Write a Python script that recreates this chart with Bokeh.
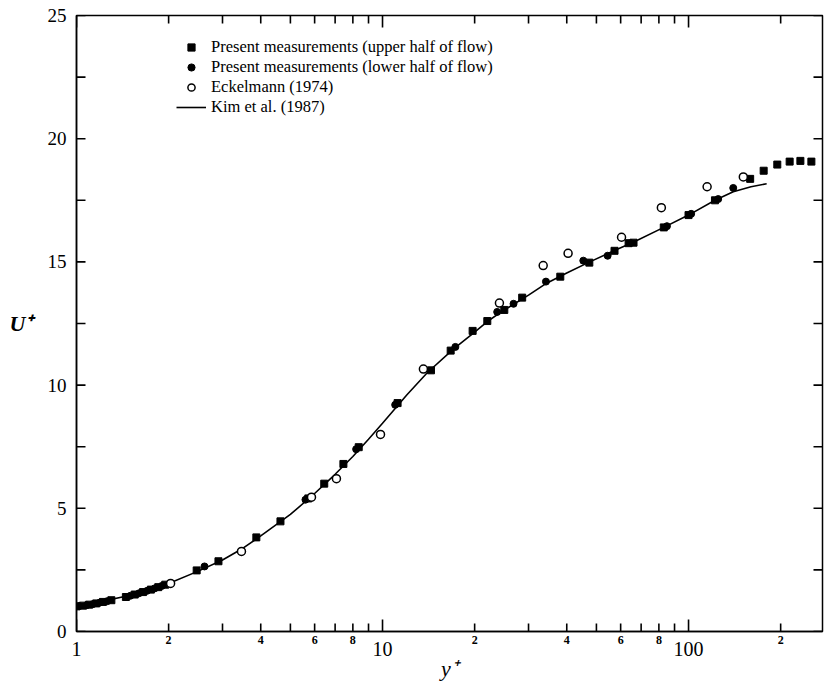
import math
from bokeh.plotting import figure
from bokeh.models import FixedTicker, LogAxis, Legend, LegendItem
from bokeh.embed import file_html
from bokeh.resources import INLINE

# ---- data ----
upper_y = [1.0, 1.05, 1.1, 1.16, 1.22, 1.3, 1.45, 1.55, 1.65, 1.75, 1.85, 1.95,
           2.47, 2.91, 3.87, 4.64, 5.72, 6.45, 7.45, 8.36, 11.2, 14.4, 16.7, 19.7,
           22.0, 25.0, 28.6, 38.1, 47.4, 57.3, 63.7, 66.1, 83.0, 100.0, 122.0,
           159.0, 176.0, 195.0, 214.0, 232.0, 252.0]
upper_u = [1.02, 1.05, 1.09, 1.14, 1.2, 1.27, 1.4, 1.5, 1.6, 1.7, 1.8, 1.9,
           2.48, 2.85, 3.82, 4.47, 5.4, 6.0, 6.8, 7.48, 9.27, 10.6, 11.4, 12.2,
           12.6, 13.05, 13.55, 14.4, 14.97, 15.45, 15.76, 15.78, 16.4, 16.9, 17.5,
           18.37, 18.7, 18.95, 19.07, 19.1, 19.07]

lower_y = [1.02, 1.08, 1.13, 1.19, 1.26, 1.5, 1.6, 1.7, 1.8, 1.9,
           2.62, 5.6, 8.2, 11.0, 17.3, 23.7, 26.8, 34.2, 45.3, 54.4, 85.0, 102.0,
           125.0, 140.0]
lower_u = [1.03, 1.07, 1.11, 1.17, 1.23, 1.45, 1.55, 1.65, 1.75, 1.85,
           2.64, 5.35, 7.4, 9.2, 11.55, 12.97, 13.3, 14.2, 15.05, 15.25, 16.45, 16.95,
           17.55, 18.0]

eck_y = [2.03, 3.46, 5.86, 7.07, 9.85, 13.6, 24.1, 33.5, 40.4, 60.4, 81.5, 115.0, 151.0]
eck_u = [1.95, 3.25, 5.45, 6.2, 8.0, 10.65, 13.33, 14.85, 15.35, 16.0, 17.2, 18.05, 18.45]

kim_y = [1, 1.5, 2, 2.5, 3, 3.5, 4, 5, 6, 7, 8, 9, 10, 11, 12, 14, 17, 20, 22, 25, 30,
         34, 40, 47, 57, 66, 83, 100, 122, 140, 160, 180]
kim_u = [1.0, 1.47, 1.95, 2.45, 2.9, 3.38, 3.88, 4.75, 5.6, 6.38, 7.1, 7.8, 8.45,
         9.05, 9.6, 10.5, 11.45, 12.15, 12.58, 13.05, 13.65, 14.1, 14.55, 14.97, 15.45,
         15.8, 16.4, 16.9, 17.5, 17.85, 18.05, 18.17]

x_range = (1, 274)
y_range = (0, 25)
x_major = [1, 10, 100]
x_major_labels = ["1", "10", "100"]
x_minor = [2, 3, 4, 5, 6, 7, 8, 9, 20, 30, 40, 50, 60, 70, 80, 90, 200]
x_minor_labels = ["2", "", "4", "", "6", "", "8", "", "2", "", "4", "", "6", "", "8", "", "2"]
y_ticks = [0, 2.5, 5, 7.5, 10, 12.5, 15, 17.5, 20, 22.5, 25]
y_labels = ["0", "", "5", "", "10", "", "15", "", "20", "", "25"]

FONT = "Liberation Serif"
INK = "black"

p = figure(width=830, height=688, x_axis_type="log", x_range=x_range, y_range=y_range,
           output_backend="svg", toolbar_location=None,
           min_border_left=76, min_border_right=8, min_border_top=15, min_border_bottom=57)
p.xgrid.visible = False
p.ygrid.visible = False
p.outline_line_color = INK
p.outline_line_width = 1.5
p.background_fill_color = "white"
p.border_fill_color = "white"


def plain(a):
    a.axis_line_color = INK
    a.axis_line_width = 1.5
    a.major_tick_line_color = None
    a.minor_tick_line_color = None
    a.major_tick_in = 0
    a.major_tick_out = 0
    a.minor_tick_in = 0
    a.minor_tick_out = 0


# bottom axis A: small labels
ax = p.xaxis[0]
ax.ticker = FixedTicker(ticks=x_minor)
ax.major_label_overrides = {v: s for v, s in zip(x_minor, x_minor_labels)}
plain(ax)
ax.major_label_standoff = 4
ax.major_label_text_font = FONT
ax.major_label_text_font_size = "12px"
ax.major_label_text_font_style = "bold"
ax.major_label_text_color = INK

# bottom axis B: decade labels
axb = LogAxis(ticker=FixedTicker(ticks=x_major),
              major_label_overrides={v: s for v, s in zip(x_major, x_major_labels)},
              major_label_standoff=-5, major_label_text_font=FONT,
              major_label_text_font_size="20px", major_label_text_color=INK,
              axis_label="y\u207a", axis_label_text_font=FONT, axis_label_text_color=INK,
              axis_label_text_font_style="italic", axis_label_text_font_size="22px",
              axis_label_standoff=-3)
plain(axb)
axb.axis_line_color = None
p.add_layout(axb, "below")

# left axis
ay = p.yaxis[0]
ay.ticker = FixedTicker(ticks=y_ticks)
ay.major_label_overrides = {v: s for v, s in zip(y_ticks, y_labels)}
plain(ay)
ay.major_label_standoff = 10
ay.major_label_text_font = FONT
ay.major_label_text_font_size = "19px"
ay.major_label_text_color = INK
ay.axis_label = "U\u207a"
ay.axis_label_orientation = "horizontal"
ay.axis_label_text_font = FONT
ay.axis_label_text_color = INK
ay.axis_label_text_font_style = "bold italic"
ay.axis_label_text_font_size = "22px"
ay.axis_label_standoff = 12

# inward tick marks on all four sides, drawn as short rays from the frame edges
tick_style = dict(line_color=INK, line_width=1.6, length_units="screen")
p.ray(x_minor, [y_range[0]] * len(x_minor), length=8, angle=math.pi / 2, **tick_style)
p.ray(x_major, [y_range[0]] * len(x_major), length=12, angle=math.pi / 2, **tick_style)
p.ray(x_minor, [y_range[1]] * len(x_minor), length=8, angle=-math.pi / 2, **tick_style)
p.ray(x_major, [y_range[1]] * len(x_major), length=12, angle=-math.pi / 2, **tick_style)
p.ray([x_range[0]] * len(y_ticks), y_ticks, length=9, angle=0, **tick_style)
p.ray([x_range[1]] * len(y_ticks), y_ticks, length=9, angle=math.pi, **tick_style)

r_kim = p.line(kim_y, kim_u, line_color=INK, line_width=1.6)
r_up = p.scatter(upper_y, upper_u, marker="square", size=7, fill_color=INK, line_color=INK)
r_lo = p.scatter(lower_y, lower_u, marker="circle", size=7, fill_color=INK, line_color=INK)
r_eck = p.scatter(eck_y, eck_u, marker="circle", size=8, fill_color="white", line_color=INK,
                  line_width=1.5)

legend = Legend(items=[
    LegendItem(label="Present measurements (upper half of flow)", renderers=[r_up]),
    LegendItem(label="Present measurements (lower half of flow)", renderers=[r_lo]),
    LegendItem(label="Eckelmann (1974)", renderers=[r_eck]),
    LegendItem(label="Kim et al. (1987)", renderers=[r_kim]),
], location=(100, 514), padding=0, spacing=0, margin=0,
    glyph_width=30, glyph_height=18, label_height=18, label_standoff=5,
    label_text_font=FONT, label_text_font_size="16.5px", label_text_color=INK,
    border_line_color=None, background_fill_alpha=0)
p.add_layout(legend)

open("out.html", "w").write(file_html(p, INLINE))
